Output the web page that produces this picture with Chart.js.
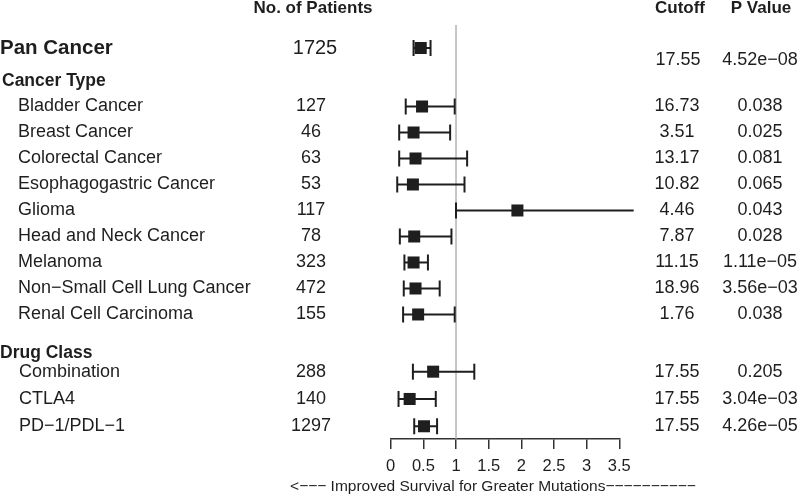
<!DOCTYPE html>
<html>
<head>
<meta charset="utf-8">
<script src="https://cdn.jsdelivr.net/npm/chart.js@4/dist/chart.umd.min.js"></script>
<style>
  html, body { margin: 0; padding: 0; background: #fff; }
  #wrap { width: 800px; height: 495px; position: relative; }
</style>
</head>
<body>
<div id="wrap"><canvas id="forest"></canvas></div>
<script>
// forest plot data
const rowLabels = [
    'Pan Cancer',
    'Bladder Cancer', 'Breast Cancer', 'Colorectal Cancer', 'Esophagogastric Cancer',
    'Glioma', 'Head and Neck Cancer', 'Melanoma', 'Non\u2212Small Cell Lung Cancer',
    'Renal Cell Carcinoma',
    'Combination', 'CTLA4', 'PD\u22121/PDL\u22121',
];
const patients = [1725, 127, 46, 63, 53, 117, 78, 323, 472, 155, 288, 140, 1297];
const estimate = [0.46, 0.48, 0.35, 0.38, 0.34, 1.94, 0.36, 0.35, 0.38, 0.42, 0.65, 0.29, 0.51];
const ciLow = [0.35, 0.23, 0.13, 0.13, 0.10, 1.00, 0.14, 0.21, 0.20, 0.19, 0.34, 0.12, 0.36];
const ciHigh = [0.61, 0.98, 0.91, 1.17, 1.13, 3.72, 0.93, 0.57, 0.75, 0.98, 1.28, 0.69, 0.71];
const cutoffs = ['17.55', '16.73', '3.51', '13.17', '10.82', '4.46', '7.87', '11.15', '18.96',
    '1.76', '17.55', '17.55', '17.55'];
const pValues = ['4.52e\u221208', '0.038', '0.025', '0.081', '0.065', '0.043', '0.028',
    '1.11e\u221205', '3.56e\u221203', '0.038', '0.205', '3.04e\u221203', '4.26e\u221205'];
const xTicks = [0, 0.5, 1, 1.5, 2, 2.5, 3, 3.5];
const refValue = 1;

// row slots (layout), one per row, plus section headings
const rowSlot = [0, 2.25, 3.25, 4.25, 5.25, 6.25, 7.25, 8.25, 9.25, 10.25, 12.45, 13.5, 14.55];
const headings = [
    { text: 'Cancer Type', slot: 1.27, x: 2 },
    { text: 'Drug Class', slot: 11.73, x: 0 },
];
const yTop = -0.885;
const yBottom = 15.04;

const INK = '#1e1e1e';
const FONT = '"Liberation Sans", Arial, Helvetica, sans-serif';

const ciSets = rowLabels.map((name, i) => ({
    label: name,
    data: [{ x: ciLow[i], y: rowSlot[i] }, { x: ciHigh[i], y: rowSlot[i] }],
    showLine: true,
    borderColor: INK,
    borderWidth: 2,
    pointStyle: 'line',
    pointRotation: 90,
    pointRadius: 8,
    pointBorderColor: INK,
    pointBorderWidth: 2,
    clip: false,
    order: 2,
}));

const textPlugin = {
    id: 'forestText',
    afterDraw(chart) {
        const ctx = chart.ctx;
        const y = chart.scales.y;
        ctx.save();
        ctx.fillStyle = INK;
        ctx.textBaseline = 'middle';

        // column headers
        ctx.font = 'bold 17px ' + FONT;
        ctx.textAlign = 'center';
        ctx.fillText('No. of Patients', 313, 8);
        ctx.fillText('Cutoff', 680, 8);
        ctx.fillText('P Value', 761, 8);

        // section headings
        ctx.textAlign = 'left';
        ctx.font = 'bold 17.5px ' + FONT;
        headings.forEach(h => ctx.fillText(h.text, h.x, y.getPixelForValue(h.slot)));

        rowLabels.forEach((name, i) => {
            const py = y.getPixelForValue(rowSlot[i]);
            if (i === 0) {
                ctx.textAlign = 'left';
                ctx.font = 'bold 20.5px ' + FONT;
                ctx.fillText(name, 0, py);
                ctx.textAlign = 'center';
                ctx.font = '20px ' + FONT;
                ctx.fillText(String(patients[i]), 315, py);
                ctx.font = '18px ' + FONT;
                ctx.fillText(cutoffs[i], 678, py + 12);
                ctx.fillText(pValues[i], 760, py + 12);
                return;
            }
            ctx.font = '18px ' + FONT;
            ctx.textAlign = 'left';
            ctx.fillText(name, i >= 10 ? 19 : 18, py);
            ctx.textAlign = 'center';
            ctx.fillText(String(patients[i]), 311, py);
            ctx.fillText(cutoffs[i], 677, py);
            ctx.fillText(pValues[i], 760, py);
        });

        // axis caption
        ctx.font = '15.5px ' + FONT;
        ctx.textAlign = 'center';
        ctx.fillText('<\u2212\u2212\u2212 Improved Survival for Greater Mutations' + '\u2212'.repeat(10), 493, 487);
        ctx.restore();
    },
};

new Chart(document.getElementById('forest'), {
    type: 'scatter',
    data: {
        datasets: [
            {
                label: 'Estimate',
                data: estimate.map((v, i) => ({ x: v, y: rowSlot[i] })),
                pointStyle: 'rect',
                pointRadius: 8.5,
                backgroundColor: INK,
                borderColor: INK,
                pointBorderWidth: 0,
                clip: false,
                order: 0,
            },
            ...ciSets,
            {
                label: 'Reference',
                data: [{ x: refValue, y: yTop }, { x: refValue, y: yBottom }],
                showLine: true,
                borderColor: '#a8a8a8',
                borderWidth: 1.3,
                pointRadius: 0,
                clip: false,
                order: 5,
            },
        ],
    },
    options: {
        responsive: true,
        maintainAspectRatio: false,
        animation: false,
        layout: { padding: { left: 390.7, right: 180.7, top: 25, bottom: 0 } },
        plugins: {
            legend: { display: false },
            tooltip: { enabled: false },
        },
        scales: {
            x: {
                type: 'linear',
                min: xTicks[0],
                max: xTicks[xTicks.length - 1],
                afterFit: (scale) => { scale.height = 56; },
                afterBuildTicks: (scale) => { scale.ticks = xTicks.map(v => ({ value: v })); },
                border: { display: true, color: '#333', width: 1.5 },
                grid: {
                    drawOnChartArea: false,
                    drawTicks: true,
                    tickLength: 10,
                    color: '#333',
                    lineWidth: 1.5,
                },
                ticks: {
                    color: INK,
                    font: { family: FONT, size: 16.5 },
                    padding: 8,
                    maxRotation: 0,
                    autoSkip: false,
                    callback: (value) => String(value),
                },
            },
            y: {
                type: 'linear',
                display: false,
                reverse: true,
                min: yTop,
                max: yBottom,
            },
        },
    },
    plugins: [textPlugin],
});
</script>
</body>
</html>
